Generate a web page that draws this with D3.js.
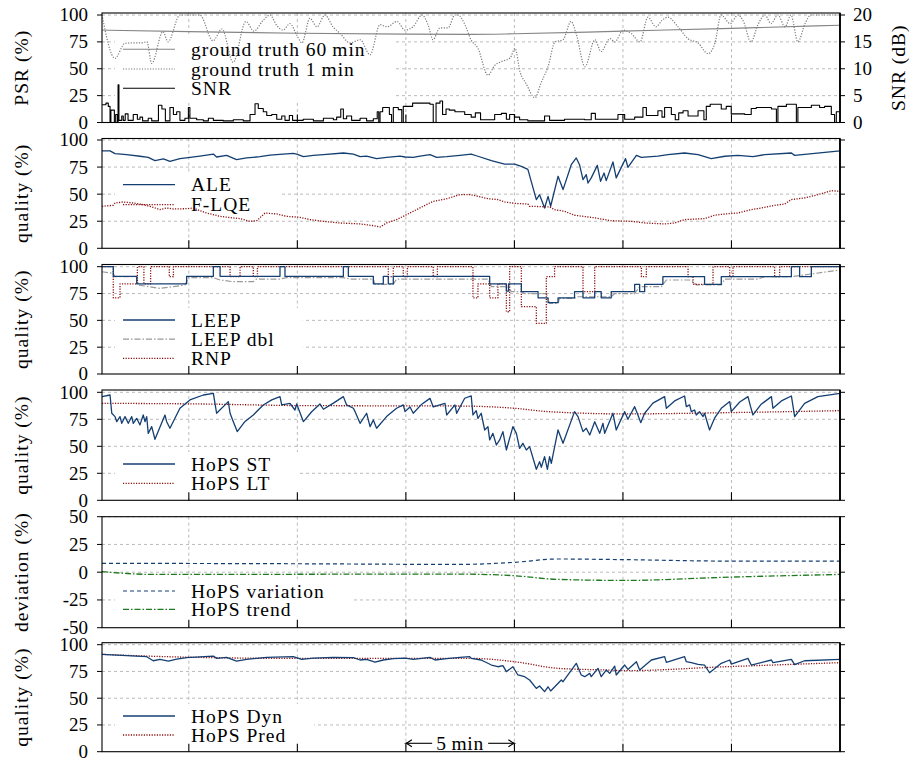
<!DOCTYPE html>
<html><head><meta charset="utf-8">
<script src="https://cdn.jsdelivr.net/npm/d3@7"></script>
<style>
body{margin:0;background:#fff}
svg text{font-family:"Liberation Serif","Times New Roman",serif;fill:#000}
</style></head><body>
<svg id="c" width="918" height="760"></svg>
<script>
// ---------------- data (time in minutes) ----------------
const xGridMinutes = [5,10,15,20,25,30];
const qualityTicks = [0,25,50,75,100];
const snrTicks = [0,5,10,15,20];
const deviationTicks = [-50,-25,0,25,50];

const groundTruth60 = [[1,86],[5,84.5],[10,83],[15,82.2],[18,82],[20,82.5],[25,85],[30,87.6],[35,90.5]];
const groundTruth1 = [[1,100],[1.6,59.7],[2.06,73.7],[2.43,74],[2.75,74],[3.07,75],[3.29,55],[3.81,84.5],[4.04,75],[4.59,100],[5.51,100],[6.11,76],[6.53,87],[7.04,56],[7.63,94],[8.0,85],[8.42,95],[8.74,100],[9.06,90],[9.34,86],[9.66,92],[9.98,81],[10.21,74],[10.58,97],[10.9,89],[11.27,100],[11.64,89],[11.96,83],[12.43,74],[12.89,77],[13.35,63],[13.81,91],[14.13,89],[14.59,94],[14.96,86],[15.33,89],[15.74,100],[16.02,91],[16.25,77],[16.57,88],[16.94,88],[17.26,100],[17.4,100],[17.72,91],[18.0,77],[18.32,69],[18.78,44],[19.11,53.5],[19.38,56.5],[19.8,60],[20.03,69],[20.26,47],[20.53,36.5],[20.95,23],[21.22,36.5],[21.55,52],[21.87,75],[22.24,77],[22.61,94],[22.84,83],[23.25,52],[23.71,77],[23.99,66],[24.4,78],[24.63,75],[25.0,86],[25.37,83],[25.79,75],[26.15,98],[26.52,89],[26.8,95],[27.07,98],[27.54,89],[28.0,78],[28.46,74],[28.92,64],[29.24,74],[29.52,100],[29.94,92],[30.3,100],[30.53,95],[30.9,75],[31.22,91],[31.54,100],[31.82,92],[32.14,100],[32.47,89],[32.74,100],[33.06,75],[33.39,92],[33.66,100],[35,100]];
const snrDb = [[1,3.3],[1.18,3.6],[1.29,3.0],[1.37,0],[1.41,2.3],[1.57,0],[1.63,1.5],[1.71,0],[1.74,7.0],[1.78,0.4],[1.91,1.2],[1.98,0.4],[2.07,1.6],[2.2,0.4],[2.44,1.5],[2.63,0.6],[2.75,1.0],[2.87,0.3],[3.13,0.8],[3.29,0.3],[3.6,3.2],[3.76,2.5],[3.92,0.3],[4.13,2.8],[4.29,1.5],[4.44,2.0],[4.59,0.4],[4.82,0.8],[4.98,2.8],[5.05,0.8],[5.36,0.5],[5.67,0.3],[5.9,0.8],[6.13,0.4],[6.59,0.3],[7.05,0.5],[7.51,0.3],[7.82,1.5],[8.05,3.5],[8.2,2.6],[8.43,2.0],[8.59,1.3],[8.82,1.5],[9.05,0.6],[9.28,1.2],[9.43,0.4],[9.63,1.3],[9.78,0.4],[10.27,0.6],[10.74,0.3],[11.2,0.8],[11.66,0.5],[11.81,1.0],[12.0,2.5],[12.12,0.7],[12.27,1.2],[12.5,0.4],[12.89,0.8],[13.19,0.3],[13.5,0.7],[13.68,2.0],[13.75,0],[13.81,2.0],[13.93,2.8],[14.24,1.5],[14.34,0],[14.42,2.8],[14.65,2.4],[14.81,0],[14.88,3.0],[15.31,3.6],[16.11,3.4],[16.26,0],[16.39,3.6],[16.57,4.0],[16.69,1.5],[16.85,2.5],[17.0,2.3],[17.26,2.0],[17.71,1.5],[18.01,1.0],[18.2,1.8],[18.44,0.5],[19.09,1.5],[19.4,1.7],[19.63,0.6],[19.78,1.5],[20.01,1.0],[20.24,0.5],[20.62,0.3],[21.39,1.2],[21.62,0.4],[22.31,0.6],[23.24,0.5],[23.54,1.7],[23.73,0.6],[24.77,1.5],[25.08,0.6],[25.54,1.0],[25.92,2.8],[26.08,1.3],[26.61,2.2],[26.8,1.0],[26.92,2.8],[27.23,1.5],[27.41,0.5],[27.57,1.8],[27.77,2.2],[28.0,1.2],[28.46,2.2],[28.73,0.5],[28.84,3.0],[29.02,3.4],[29.53,2.5],[29.76,3.0],[29.99,1.6],[30.61,1.5],[30.91,2.6],[31.14,2.8],[31.84,2.5],[32.07,0],[32.14,3.0],[32.53,3.4],[32.99,0],[33.06,2.8],[33.68,3.2],[34.06,2.8],[34.29,3.0],[34.6,1.5],[34.75,0],[34.83,2.0],[35,2.0]];

const ale = [[1,90],[1.37,90],[1.6,87.4],[2.14,86.5],[2.75,85],[3.13,84],[3.44,81],[3.83,82.5],[4.13,80.3],[4.59,82.8],[5.06,84],[5.51,85.2],[6.13,87],[6.28,84.3],[6.74,85.8],[7.2,81.8],[7.66,83.4],[8.28,84.6],[8.74,86],[9.35,87],[9.81,87.7],[9.97,87],[10.28,84.6],[10.74,85.8],[11.2,86.5],[12.12,88],[12.58,87],[12.89,84.6],[13.19,85.2],[13.65,82.8],[14.11,84],[14.73,85.2],[14.96,84.3],[15.34,84],[15.65,85.2],[16.11,86.5],[16.42,84],[16.88,84.6],[17.49,85.8],[18.01,87],[18.32,85],[18.94,81],[19.24,79.4],[19.55,77.8],[20.01,77.8],[20.32,75.7],[20.62,72.9],[21.01,45],[21.16,49.5],[21.39,37.2],[21.55,48],[21.67,38.8],[22.01,66.5],[22.24,54.2],[22.62,77.2],[22.85,83.4],[23.0,77.2],[23.16,63.4],[23.31,68],[23.39,60.3],[23.54,65],[23.82,76.6],[23.97,61.8],[24.13,69.5],[24.23,62.5],[24.54,79.7],[24.69,65],[25.12,82.8],[25.23,74.8],[25.62,85.8],[25.85,84],[26.61,85.2],[27.07,86.5],[27.84,88],[28.46,86.5],[29.07,82.8],[29.69,85],[30.3,85.8],[30.99,84.6],[31.53,86.5],[32.76,88],[32.91,85.8],[35,90]];
const flqe = [[1,38.8],[1.52,39.7],[1.6,41.8],[1.98,42.8],[2.44,41.8],[2.9,40.3],[3.36,37.8],[3.67,35.7],[3.98,37.2],[4.29,36.3],[4.9,36.6],[5.21,37.2],[5.51,34.8],[5.82,32.6],[6.44,29.5],[7.05,28],[7.36,27.4],[7.82,24.9],[8.13,25.5],[8.51,32.6],[9.05,31.7],[9.51,29.5],[10.12,28.6],[10.58,26.5],[11.2,24.9],[11.96,23.4],[12.89,22.5],[13.5,20.9],[13.81,19.7],[14.11,23.4],[14.57,26.5],[14.88,29.5],[15.34,34.2],[15.8,38.8],[16.26,43.4],[16.88,45.8],[17.49,49.5],[18.01,49.5],[18.32,48],[18.78,45.8],[19.24,45],[19.55,42.8],[20.01,41.5],[20.62,40.9],[20.7,38.8],[21.62,38.2],[21.85,35.7],[22.31,34.2],[22.77,30.5],[23.54,28.6],[24.46,25.5],[25.39,24.9],[26.0,23.4],[26.92,22.5],[27.38,23.4],[27.84,26.5],[28.76,27.4],[29.22,30.5],[29.69,31.7],[30.3,32.6],[30.91,35.7],[31.37,37.2],[31.99,39.7],[32.45,40.9],[32.76,45],[33.37,46.5],[33.98,49.5],[34.6,53.2],[35,52.6]];

const leep = [[1,100],[1.52,91],[2.6,84],[4.9,91],[6.13,100],[6.44,91],[9.2,100],[9.43,91],[12.12,100],[12.35,91],[13.5,84],[13.96,91],[14.19,84],[14.42,91],[18.86,84],[19.63,77.3],[19.73,84],[20.32,76.7],[21.09,71],[21.55,66.5],[22.01,71],[22.77,76.7],[23.16,71],[23.7,76.7],[24.0,71],[24.46,76.7],[25.54,83.5],[25.77,76.7],[26.0,83.5],[26.84,90.7],[28.76,83.5],[29.53,90.7],[32.76,100],[33.14,90.7],[33.68,100],[35,100]];
const leepDbl = [[1,95.3],[1.52,93.8],[1.6,90.7],[2.6,90.7],[2.67,83],[3.67,79.8],[4.29,81.4],[4.82,83],[4.98,89.8],[6.13,89.8],[6.44,87.6],[7.05,86],[7.97,86],[8.13,88.5],[9.2,88.5],[9.51,89.8],[12.12,89.8],[12.43,88.5],[13.5,88.5],[13.58,83.5],[14.42,83.5],[14.57,88.5],[17.49,88.5],[18.78,88.5],[18.94,81.4],[19.7,81.4],[19.86,76.7],[20.32,76.7],[20.47,75],[21.47,75],[21.62,65.8],[22.01,65.8],[22.08,70.5],[22.77,70.5],[22.93,72],[24.46,72],[24.62,75],[25.54,75],[25.77,81.4],[26.77,81.4],[27.0,87.6],[28.15,87.6],[28.38,83],[29.53,83],[29.69,88.5],[31.22,88.5],[31.53,90.7],[32.76,90.7],[35,96.9]];
const rnp = [[1,100],[1.52,71],[1.83,84],[2.63,100],[2.93,84],[3.24,100],[4.1,90.7],[4.29,100],[6.9,90.7],[7.36,100],[7.97,90.7],[8.16,100],[14.19,90.7],[14.42,100],[14.88,90.7],[15.07,100],[16.26,90.7],[16.45,100],[18.09,71],[18.32,84],[18.86,71],[19.24,84],[19.63,58],[19.78,100],[20.32,62.7],[21.01,47.2],[21.47,90.7],[21.85,100],[23.16,76.7],[23.7,100],[25.85,90.7],[26.08,100],[28.0,90.7],[28.23,83.5],[29.15,100],[29.92,90.7],[30.07,100],[31.99,90.7],[32.22,100],[35,100]];

const hopsST = [[1,96],[1.37,97.5],[1.45,80.6],[1.6,77.5],[1.68,72.8],[1.83,77.5],[1.91,71.3],[2.06,77.5],[2.21,71.3],[2.37,77.5],[2.44,71.3],[2.6,75.9],[2.75,69.8],[2.9,79],[2.98,72.8],[3.06,77.5],[3.13,62],[3.29,68.2],[3.44,56.5],[3.9,79],[3.98,72.8],[4.13,66.7],[4.36,76],[4.59,85.2],[5.05,92.9],[5.67,97.5],[6.13,99],[6.28,80.6],[6.82,91.4],[6.9,80.6],[7.05,72.8],[7.23,63.6],[7.59,73],[7.97,79],[8.43,88.3],[8.82,93],[9.2,96],[9.28,88.3],[9.66,89.8],[9.89,83.6],[9.97,89.2],[10.28,72.8],[10.66,82],[11.04,89.2],[11.2,84.3],[11.66,90],[12.12,96],[12.27,88.3],[12.58,85.2],[12.66,82.1],[12.89,71.3],[13.19,80.6],[13.35,68.2],[13.5,74.4],[13.65,66.7],[14.11,77.5],[14.57,85.2],[14.88,88.3],[14.96,82.1],[15.19,86.4],[15.34,80.6],[15.73,89],[16.11,94.4],[16.26,86.4],[16.8,89.8],[16.88,79],[17.26,88.3],[17.34,80.6],[17.71,94.5],[18.01,96.6],[18.09,79],[18.24,83],[18.32,75.9],[18.47,80.6],[18.63,65.1],[18.78,68.2],[18.86,55.9],[19.01,62],[19.17,51.2],[19.32,55.9],[19.47,63.6],[19.63,46.6],[19.93,68.2],[20.09,62],[20.24,48.1],[20.39,52.8],[20.55,46.6],[20.7,49.7],[21.01,28.7],[21.16,35.8],[21.24,30.6],[21.39,40.4],[21.52,28.7],[21.62,40.4],[21.7,34.3],[22.01,65.1],[22.24,52.8],[22.77,82.1],[22.93,77.5],[23.16,63.6],[23.31,66.7],[23.47,60.5],[23.7,72.8],[23.93,62],[24.08,71.3],[24.16,62],[24.54,80.6],[24.69,65.1],[25.08,82.1],[25.23,75],[25.54,86.7],[25.69,79],[25.82,71.9],[26.0,80.6],[26.38,90],[26.92,96],[27.0,85.2],[27.38,92],[27.84,96.6],[27.92,86.7],[28.07,88.3],[28.15,82.1],[28.3,83.6],[28.38,79],[28.53,82.1],[28.69,77.5],[28.76,80.6],[28.99,65.1],[29.22,76],[29.53,85.2],[29.92,91.4],[29.99,82.1],[30.38,91],[30.76,96],[30.88,86.7],[30.99,79],[31.37,89],[31.84,96],[31.91,85.2],[32.3,92],[32.76,96.6],[32.91,77.5],[33.37,89.8],[33.98,96],[35,99]];
const hopsLT = [[1,89.8],[5.51,89.2],[10.12,87.7],[17.49,87.3],[20.01,85.2],[21.55,82.1],[25.08,80],[29.99,81.2],[35,83]];

const hopsVariation = [[1,8],[10.12,7.6],[17.4,7],[20.01,8.9],[21.99,11.9],[25.08,11.3],[29.99,10],[35,10]];
const hopsTrend = [[1,0.5],[3.36,-2],[17.4,-1.7],[20.01,-3.2],[22.01,-6.5],[25.08,-7.4],[29.99,-4.4],[35,-2]];

const hopsDyn = [[1,91],[3.06,88.8],[3.36,85],[3.67,86.3],[4.06,84.7],[4.44,86.6],[4.9,87.9],[6.13,89.4],[6.28,87.2],[6.74,88.2],[7.2,84.7],[7.66,86.3],[8.59,88.2],[9.81,88.8],[10.2,86.3],[10.74,87.5],[11.66,88.2],[12.58,87.9],[12.89,85.7],[13.19,86.3],[13.58,83.8],[13.96,85.7],[14.42,86.9],[14.96,87.5],[15.34,86.3],[16.11,88.2],[16.34,85.7],[16.88,86.9],[17.49,88.2],[17.94,88.8],[18.01,87.2],[18.47,85.7],[18.94,81],[19.24,79.4],[19.47,80.4],[19.63,74.8],[19.93,79.4],[20.16,71.7],[20.47,70.1],[20.7,67],[21.01,59.2],[21.16,61.4],[21.39,56.1],[21.55,60.7],[21.67,56.7],[22.16,67],[22.24,65.4],[22.85,82.6],[23.08,71.7],[23.24,70.1],[23.47,73.2],[23.54,70.1],[23.85,77.9],[24.0,70.1],[24.23,76.3],[24.39,73.2],[24.62,80],[24.69,71.7],[25.08,81],[25.23,76.9],[25.62,84.1],[25.77,76.3],[26.31,85.7],[26.92,88.8],[27.0,83.5],[27.84,88.8],[27.92,84.1],[28.15,83.2],[28.46,81.6],[28.76,81],[28.99,73.8],[29.53,82.6],[29.92,85.7],[29.99,81.9],[30.76,87.2],[30.91,81],[31.84,85.7],[31.91,83.2],[32.76,86.3],[32.91,81.3],[33.37,85],[35,86.3]];
const hopsPred = [[1,91],[3.98,88.8],[10.12,87.2],[17.49,87.2],[18.01,87.2],[20.01,84.1],[22.01,77.9],[24.31,76.3],[25.08,75.7],[29.69,79.4],[32.76,81.6],[35,83.2]];

// ---------------- styles ----------------
const C = {
  blue:"#143f72", red:"#8b1010", gray:"#858585", green:"#1e7a1e", black:"#000"
};
const S = {
  gt60:{stroke:C.gray,width:1.1,dash:null},
  gt1:{stroke:"#7a7a7a",width:1.2,dash:"1.2 1.5"},
  snr:{stroke:C.black,width:1.1,dash:null},
  blue:{stroke:C.blue,width:1.3,dash:null},
  red:{stroke:C.red,width:1.3,dash:"1.2 1.4"},
  grayDashDot:{stroke:"#999",width:1.2,dash:"6 2 1.5 2"},
  blueDash:{stroke:C.blue,width:1.2,dash:"4 3"},
  greenDashDot:{stroke:C.green,width:1.3,dash:"6 2 1.5 2"}
};

// ---------------- layout ----------------
const X0 = 102, X1 = 840;
const x = d3.scaleLinear().domain([1,35]).range([X0,X1]);
const svg = d3.select("#c");

const panels = [
  {label:"PSR (%)", frameTop:13, y0:122.5, yMax:15, domain:[0,100], ticks:qualityTicks,
   right:{domain:[0,20], ticks:snrTicks, label:"SNR (dB)"},
   legendRows:[49.3,69,88.3],
   series:[
     {data:groundTruth60, style:S.gt60, name:"ground truth 60\u2009min", curve:d3.curveMonotoneX},
     {data:groundTruth1, style:S.gt1, name:"ground truth 1\u2009min", curve:d3.curveMonotoneX},
     {data:snrDb, style:S.snr, name:"SNR", curve:d3.curveStepAfter, axis:"right"}
   ]},
  {label:"quality (%)", frameTop:138.5, y0:248.3, yMax:140, domain:[0,100], ticks:qualityTicks,
   legendRows:[184.7,204.7],
   series:[
     {data:ale, style:S.blue, name:"ALE"},
     {data:flqe, style:S.red, name:"F-LQE"}
   ]},
  {label:"quality (%)", frameTop:264.5, y0:374, yMax:266.7, domain:[0,100], ticks:qualityTicks,
   legendRows:[320,339.2,358.3],
   series:[
     {data:leepDbl, style:S.grayDashDot, name:"LEEP dbl", order:1},
     {data:rnp, style:S.red, name:"RNP", curve:d3.curveStepAfter, order:2},
     {data:leep, style:S.blue, name:"LEEP", curve:d3.curveStepAfter, order:0}
   ]},
  {label:"quality (%)", frameTop:390, y0:500.3, yMax:392.3, domain:[0,100], ticks:qualityTicks,
   legendRows:[464,483.3],
   series:[
     {data:hopsLT, style:S.red, name:"HoPS LT", curve:d3.curveMonotoneX, order:1},
     {data:hopsST, style:S.blue, name:"HoPS ST", order:0}
   ]},
  {label:"deviation (%)", frameTop:516.7, y0:627.7, yMax:516.7, domain:[-50,50], ticks:deviationTicks,
   legendRows:[591,609.3],
   series:[
     {data:hopsVariation, style:S.blueDash, name:"HoPS variation", curve:d3.curveMonotoneX},
     {data:hopsTrend, style:S.greenDashDot, name:"HoPS trend", curve:d3.curveMonotoneX}
   ]},
  {label:"quality (%)", frameTop:642.7, y0:751.7, yMax:644.7, domain:[0,100], ticks:qualityTicks,
   legendRows:[716,735],
   series:[
     {data:hopsPred, style:S.red, name:"HoPS Pred", curve:d3.curveMonotoneX, order:1},
     {data:hopsDyn, style:S.blue, name:"HoPS Dyn", order:0}
   ]}
];

const FONT = 19;
function applyStyle(sel, st){
  sel.attr("fill","none").attr("stroke",st.stroke).attr("stroke-width",st.width)
     .attr("stroke-linejoin","round");
  if(st.dash) sel.attr("stroke-dasharray",st.dash);
  return sel;
}

panels.forEach((p,i)=>{
  const g = svg.append("g");
  const y = d3.scaleLinear().domain(p.domain).range([p.y0,p.yMax]);
  const yR = p.right ? d3.scaleLinear().domain(p.right.domain).range([p.y0,p.yMax]) : null;
  const clipId = "clip"+i;
  svg.append("clipPath").attr("id",clipId).append("rect")
     .attr("x",X0).attr("y",p.frameTop).attr("width",X1-X0).attr("height",p.y0-p.frameTop);

  // grid
  const grid = g.append("g").attr("stroke","#b3b3b3").attr("stroke-width",0.9).attr("stroke-dasharray","3 3");
  p.ticks.forEach(t=>{
    if(t===p.domain[0]) return;
    grid.append("line").attr("x1",X0).attr("x2",X1).attr("y1",y(t)).attr("y2",y(t));
  });
  xGridMinutes.forEach(m=>{
    grid.append("line").attr("x1",x(m)).attr("x2",x(m)).attr("y1",p.frameTop).attr("y2",p.y0);
  });

  // legend box (under data)
  const legendG = g.append("g");
  const nameOrder = p.series.slice().sort((a,b)=>(a.order||0)-(b.order||0));
  const boxRect = legendG.append("rect").attr("fill","#fff");

  // data
  const dg = g.append("g").attr("clip-path",`url(#${clipId})`);
  p.series.forEach(s=>{
    const ys = s.axis==="right" ? yR : y;
    applyStyle(dg.append("path").datum(s.data)
      .attr("d", d3.line().x(d=>x(d[0])).y(d=>ys(d[1])).curve(s.curve||d3.curveLinear)), s.style);
  });

  // legend entries
  let maxW = 0;
  nameOrder.forEach((s,k)=>{
    const ry = p.legendRows[k];
    applyStyle(legendG.append("line").attr("x1",123).attr("x2",175).attr("y1",ry).attr("y2",ry), s.style);
    const t = legendG.append("text").attr("x",191).attr("y",ry).attr("dy","0.34em")
      .attr("font-size",FONT+0.5).attr("letter-spacing","1px").text(s.name);
    maxW = Math.max(maxW, t.node().getComputedTextLength());
  });
  const bTop = p.legendRows[0]-12, bBot = Math.min(p.legendRows[p.legendRows.length-1]+14, p.y0-1);
  boxRect.attr("x",115).attr("y",bTop).attr("width",191+maxW+28-115).attr("height",bBot-bTop);

  // frame
  g.append("rect").attr("x",X0).attr("y",p.frameTop).attr("width",X1-X0).attr("height",p.y0-p.frameTop)
    .attr("fill","none").attr("stroke","#000").attr("stroke-width",1.1);
  g.append("line").attr("x1",X1).attr("x2",X1).attr("y1",p.frameTop).attr("y2",p.y0)
    .attr("stroke","#000").attr("stroke-width",1.8);

  // ticks
  p.ticks.forEach(t=>{
    g.append("line").attr("x1",X0-5).attr("x2",X0).attr("y1",y(t)).attr("y2",y(t)).attr("stroke","#000");
    g.append("line").attr("x1",X1).attr("x2",X1+5).attr("y1",y(t)).attr("y2",y(t)).attr("stroke","#000");
    g.append("text").attr("x",88).attr("y",y(t)).attr("dy","0.34em").attr("text-anchor","end")
      .attr("font-size",FONT).text(String(t));
  });
  if(p.right){
    p.right.ticks.forEach(t=>{
      g.append("text").attr("x",853).attr("y",yR(t)).attr("dy","0.34em").attr("font-size",FONT).text(String(t));
    });
    g.append("text").attr("transform",`translate(905,${(p.y0+p.frameTop)/2}) rotate(-90)`)
      .attr("text-anchor","middle").attr("font-size",FONT+0.5).attr("letter-spacing","1px").text(p.right.label);
  }
  xGridMinutes.forEach(m=>{
    g.append("line").attr("x1",x(m)).attr("x2",x(m)).attr("y1",p.y0).attr("y2",p.y0-8).attr("stroke","#000").attr("stroke-width",1.1);
  });
  g.append("text").attr("transform",`translate(28,${(p.y0+p.frameTop)/2}) rotate(-90)`)
    .attr("text-anchor","middle").attr("font-size",FONT+0.5).attr("letter-spacing","1px").text(p.label);
});

// 5 min annotation
(function(){
  const ay = 743.3, xa = x(15), xb = x(20);
  const g = svg.append("g");
  const t = g.append("text").attr("x",(xa+xb)/2).attr("y",ay).attr("dy","0.34em").attr("text-anchor","middle")
    .attr("font-size",FONT+0.5).attr("letter-spacing","0.8px").text("5\u2009min");
  const w = t.node().getComputedTextLength();
  const l1 = (xa+xb)/2 - w/2 - 4, r1 = (xa+xb)/2 + w/2 + 4;
  g.append("line").attr("x1",xa).attr("x2",l1).attr("y1",ay).attr("y2",ay).attr("stroke","#000").attr("stroke-width",1.1);
  g.append("line").attr("x1",r1).attr("x2",xb).attr("y1",ay).attr("y2",ay).attr("stroke","#000").attr("stroke-width",1.1);
  g.append("path").attr("d",`M${xa+6},${ay-3.5} Q${xa+2},${ay-0.6} ${xa},${ay} Q${xa+2},${ay+0.6} ${xa+6},${ay+3.5}`)
    .attr("fill","none").attr("stroke","#000").attr("stroke-width",1.1);
  g.append("path").attr("d",`M${xb-6},${ay-3.5} Q${xb-2},${ay-0.6} ${xb},${ay} Q${xb-2},${ay+0.6} ${xb-6},${ay+3.5}`)
    .attr("fill","none").attr("stroke","#000").attr("stroke-width",1.1);
})();
</script>
</body></html>
